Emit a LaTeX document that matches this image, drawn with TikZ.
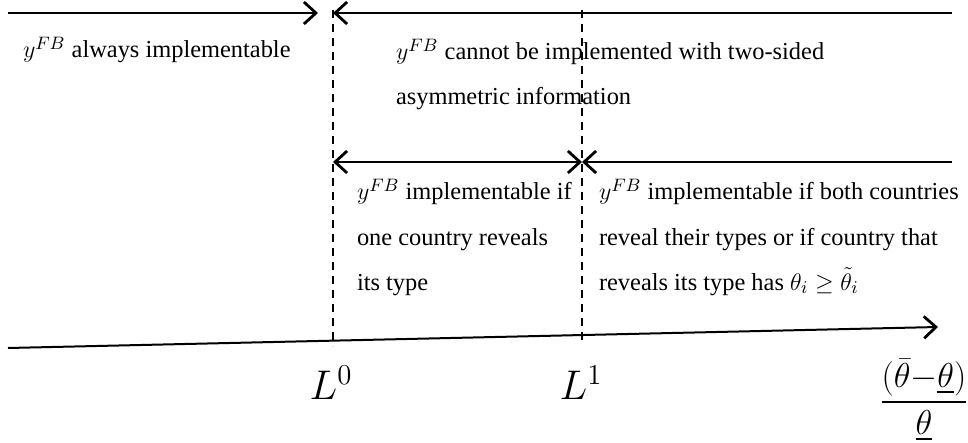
\documentclass[tikz,border=0pt]{standalone}
\usepackage{amsmath}
\usepackage{fontspec}
\setmainfont{Liberation Serif}
\usetikzlibrary{arrows.meta}

\begin{document}
\begin{tikzpicture}[x=0.5pt, y=-0.5pt, line width=1pt,
   >={Straight Barb[length=6pt, width=11pt, line width=1.4pt]},
   txt/.style={anchor=base west, align=left, inner sep=0pt, font=\fontsize{12.2}{22.5}\selectfont},
   lab/.style={inner sep=0pt, font=\fontsize{20}{24}\selectfont},
   bound/.style={line width=0.7pt, dash pattern=on 4pt off 3pt}]
  \useasboundingbox (0,0) rectangle (968,443);
  \coordinate (a0) at (8,13);
  \coordinate (a1) at (318,13);
  \coordinate (b0) at (333,13);
  \coordinate (b1) at (952,13);
  \coordinate (c0) at (333,162);
  \coordinate (c1) at (582,162);
  \coordinate (c2) at (952,162);
  \coordinate (x0) at (8,348);
  \coordinate (x1) at (938,327);
  \coordinate (L0top) at (333,10);
  \coordinate (L0bot) at (333,346);
  \coordinate (L1top) at (582,10);
  \coordinate (L1bot) at (582,340);
  \draw[bound] (L0top) -- (L0bot);
  \draw[bound] (L1top) -- (L1bot);
  \draw[->] (a0) -- (a1);
  \draw[->] (b1) -- (b0);
  \draw[<->] (c0) -- (c1);
  \draw[->] (c2) -- (c1);
  \draw[->] (x0) -- (x1);
  % base of a multi-line node is its last line
  \node[txt] (always) at (22,58) {$y^{FB}$ always implementable};
  \node[txt] (cannot) at (395,105) {$y^{FB}$ cannot be implemented with two-sided\\asymmetric information};
  \node[txt] (one) at (356,290) {$y^{FB}$ implementable if\\one country reveals\\its type};
  \node[txt] (both) at (598,290) {$y^{FB}$ implementable if both countries\\reveal their types or if country that\\reveals its type has $\theta_i \geq \tilde{\theta}_i$};
  \node[lab] (l0) at (331,383) {$L^0$};
  \node[lab] (l1) at (581,383) {$L^1$};
  \node[lab, font=\fontsize{17}{20}\selectfont] (ratio) at (924,400)
    {$\dfrac{(\bar{\theta}{-}\underline{\theta})\rule[-4pt]{0pt}{0pt}}{\rule{0pt}{12pt}\underline{\theta}}$};
\end{tikzpicture}
\end{document}
